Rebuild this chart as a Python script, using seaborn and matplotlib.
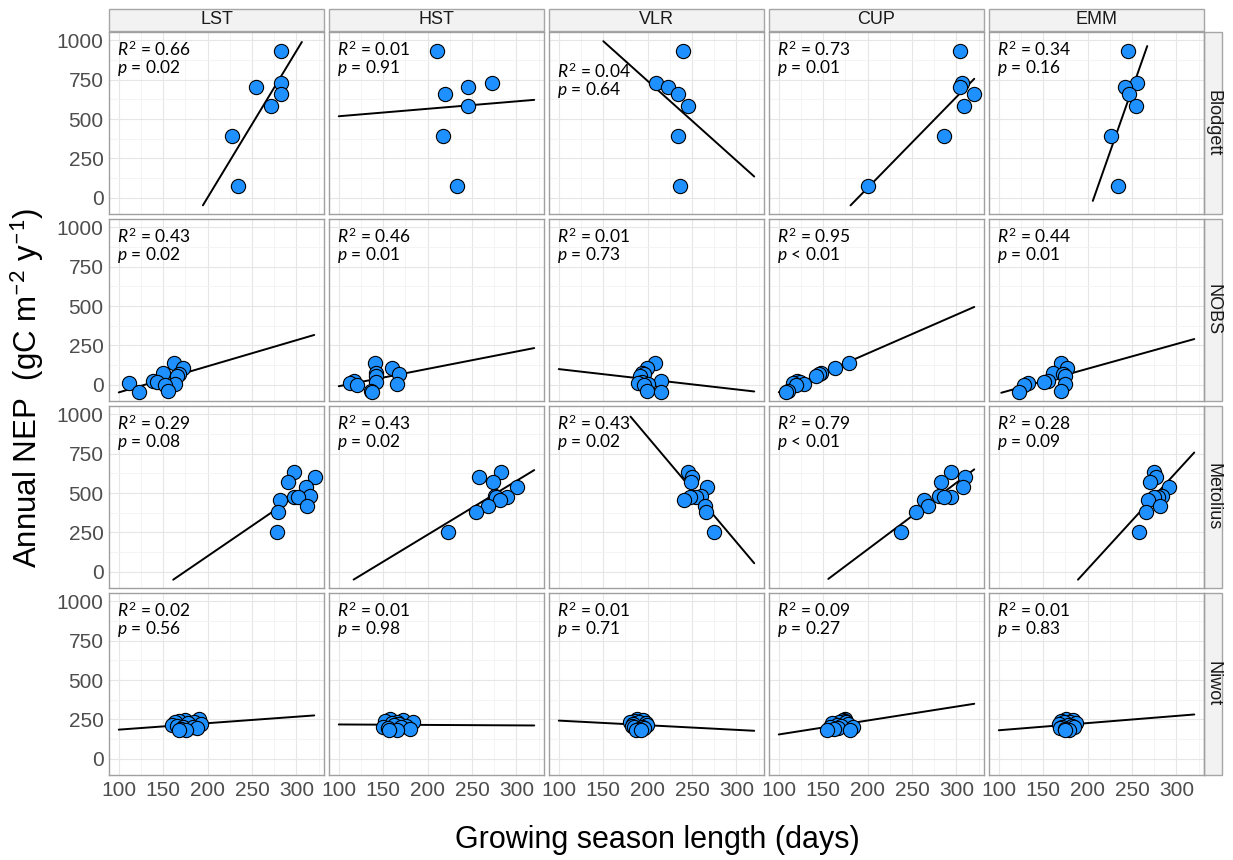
import numpy as np
import pandas as pd
import matplotlib.pyplot as plt
import seaborn as sns
from matplotlib.patches import Rectangle

# facets
sites = ["Blodgett", "NOBS", "Metolius", "Niwot"]
metrics = ["LST", "HST", "VLR", "CUP", "EMM"]

# annual NEP per site (gC m-2 y-1), one value per year
nep_blodgett = [932, 729, 703, 661, 583, 390, 74]
nep_nobs = [141, 105, 78, 71, 55, 25, 19, 10, 5, 2, -38, -42]
nep_metolius = [636, 600, 568, 537, 484, 478, 474, 453, 415, 383, 251]
nep_niwot = [256, 249, 243, 237, 231, 226, 220, 215, 210, 205, 200, 196, 191, 186, 181]

# growing season length (days), same year order as NEP
gsl_blodgett = {
    "LST": [283, 283, 255, 283, 271, 227, 234],
    "HST": [210, 272, 246, 220, 246, 217, 233],
    "VLR": [240, 209, 223, 234, 245, 234, 237],
    "CUP": [304, 306, 304, 320, 309, 286, 200],
    "EMM": [245, 255, 242, 247, 254, 226, 234],
}
gsl_nobs = {
    "LST": [162, 172, 150, 168, 166, 139, 143, 112, 163, 152, 155, 123],
    "HST": [141, 160, 142, 168, 142, 117, 142, 113, 166, 120, 136, 137],
    "VLR": [208, 199, 194, 196, 191, 215, 194, 189, 200, 196, 199, 215],
    "CUP": [179, 163, 147, 145, 142, 121, 124, 116, 128, 119, 110, 108],
    "EMM": [170, 177, 161, 172, 175, 155, 151, 133, 175, 128, 170, 123],
}
gsl_metolius = {
    "LST": [297, 321, 291, 311, 315, 297, 302, 282, 312, 279, 278],
    "HST": [283, 258, 274, 301, 276, 289, 277, 282, 268, 255, 223],
    "VLR": [245, 250, 249, 267, 260, 254, 248, 241, 265, 266, 275],
    "CUP": [294, 310, 283, 307, 280, 294, 286, 263, 268, 255, 237],
    "EMM": [275, 277, 270, 292, 284, 279, 275, 268, 281, 266, 258],
}
gsl_niwot = {
    "LST": [190, 175, 168, 185, 163, 178, 192, 160, 165, 172, 183, 188, 170, 176, 168],
    "HST": [158, 172, 152, 165, 183, 160, 168, 162, 176, 150, 170, 155, 180, 165, 157],
    "VLR": [188, 195, 186, 190, 180, 198, 184, 199, 182, 194, 185, 196, 190, 187, 192],
    "CUP": [175, 172, 174, 168, 176, 160, 178, 165, 170, 184, 158, 167, 162, 180, 154],
    "EMM": [176, 184, 170, 180, 173, 187, 168, 178, 182, 171, 185, 169, 175, 179, 174],
}

# reported statistics per panel
r2_blodgett = ["0.66", "0.01", "0.04", "0.73", "0.34"]
p_blodgett = ["= 0.02", "= 0.91", "= 0.64", "= 0.01", "= 0.16"]
r2_nobs = ["0.43", "0.46", "0.01", "0.95", "0.44"]
p_nobs = ["= 0.02", "= 0.01", "= 0.73", "< 0.01", "= 0.01"]
r2_metolius = ["0.29", "0.43", "0.43", "0.79", "0.28"]
p_metolius = ["= 0.08", "= 0.02", "= 0.02", "< 0.01", "= 0.09"]
r2_niwot = ["0.02", "0.01", "0.01", "0.09", "0.01"]
p_niwot = ["= 0.56", "= 0.98", "= 0.71", "= 0.27", "= 0.83"]

nep_all = {"Blodgett": nep_blodgett, "NOBS": nep_nobs, "Metolius": nep_metolius, "Niwot": nep_niwot}
gsl_all = {"Blodgett": gsl_blodgett, "NOBS": gsl_nobs, "Metolius": gsl_metolius, "Niwot": gsl_niwot}
r2_all = {"Blodgett": r2_blodgett, "NOBS": r2_nobs, "Metolius": r2_metolius, "Niwot": r2_niwot}
p_all = {"Blodgett": p_blodgett, "NOBS": p_nobs, "Metolius": p_metolius, "Niwot": p_niwot}

# long table for plotting
rows = []
for site in sites:
    for m in metrics:
        for x, y in zip(gsl_all[site][m], nep_all[site]):
            rows.append({"site": site, "metric": m, "gsl": x, "nep": y})
df = pd.DataFrame(rows)

sns.set_theme(style="white")
plt.rcParams['font.family'] = ['Liberation Sans', 'DejaVu Sans']
plt.rcParams['mathtext.fontset'] = 'custom'
plt.rcParams['mathtext.rm'] = 'Lato'
plt.rcParams['mathtext.it'] = 'Lato:italic'

fig, axes = plt.subplots(4, 5, figsize=(12.33, 8.6), dpi=100, sharex=True, sharey=True)
fig.subplots_adjust(left=0.0884, right=0.9765, top=0.9628, bottom=0.0988,
                    wspace=0.0233, hspace=0.027)

strip_face = '#F2F2F2'
strip_edge = '#A6A6A6'

for i, site in enumerate(sites):
    for j, m in enumerate(metrics):
        ax = axes[i, j]
        sub = df[(df.site == site) & (df.metric == m)]

        ax.set_xlim(89, 331)
        ax.set_ylim(-102.5, 1052.5)
        ax.set_xticks([100, 150, 200, 250, 300])
        ax.set_xticks([125, 175, 225, 275, 325], minor=True)
        ax.set_yticks([0, 250, 500, 750, 1000])
        ax.set_yticks([125, 375, 625, 875], minor=True)
        ax.grid(which='major', color='#E6E6E6', lw=0.8)
        ax.grid(which='minor', color='#F3F3F3', lw=0.6)
        ax.set_axisbelow(True)

        # linear fit over 100-320 days, dropped outside the y scale
        slope, icpt = np.polyfit(sub.gsl, sub.nep, 1)
        xf = np.linspace(100, 320, 80)
        yf = slope * xf + icpt
        keep = (yf >= -50) & (yf <= 1000)
        ax.plot(xf[keep], yf[keep], color='black', lw=1.4, zorder=2)

        sns.scatterplot(data=sub, x="gsl", y="nep", ax=ax, s=105, color='#1E90FF',
                        edgecolor='black', linewidth=0.8, zorder=3, legend=False)
        ax.set_xlabel("")
        ax.set_ylabel("")

        for sp in ax.spines.values():
            sp.set_color('#A0A0A0')
            sp.set_linewidth(1.0)

        ax.tick_params(which='both', length=0, labelsize=15, labelcolor='#4D4D4D')
        if j == 0:
            ax.tick_params(axis='y', which='major', length=3, color='#4D4D4D', pad=1)
        if i == 3:
            ax.tick_params(axis='x', which='major', length=3, color='#4D4D4D', pad=1)

        # annotation
        ty = 900 if not (site == "Blodgett" and m == "VLR") else 761
        ax.text(98, ty, r'$R^2$ = ' + r2_all[site][j], fontsize=12.5, family='Lato',
                color='black', ha='left', va='baseline')
        ax.text(98, ty - 106, r'$p$ ' + p_all[site][j], fontsize=12.5, family='Lato',
                color='black', ha='left', va='baseline')

        # facet strips
        if i == 0:
            ax.add_patch(Rectangle((0, 1.0055), 1, 0.121, transform=ax.transAxes,
                                   facecolor=strip_face, edgecolor=strip_edge, lw=1, clip_on=False))
            ax.text(0.5, 1.066, m, transform=ax.transAxes, ha='center', va='center',
                    fontsize=13, color='#1A1A1A')
        if j == 4:
            ax.add_patch(Rectangle((1.0, 0), 0.084, 1, transform=ax.transAxes,
                                   facecolor=strip_face, edgecolor=strip_edge, lw=1, clip_on=False))
            ax.text(1.042, 0.5, site, transform=ax.transAxes, ha='center', va='center',
                    rotation=270, fontsize=13, color='#1A1A1A')

fig.text(0.022, 0.549, "Annual NEP  (gC m$^{-2}$ y$^{-1}$)", rotation=90,
         ha='center', va='center', fontsize=22.5, color='black')
fig.text(0.533, 0.023, "Growing season length (days)", ha='center', va='center',
         fontsize=22, color='black')

plt.savefig("out.png", dpi=100)
